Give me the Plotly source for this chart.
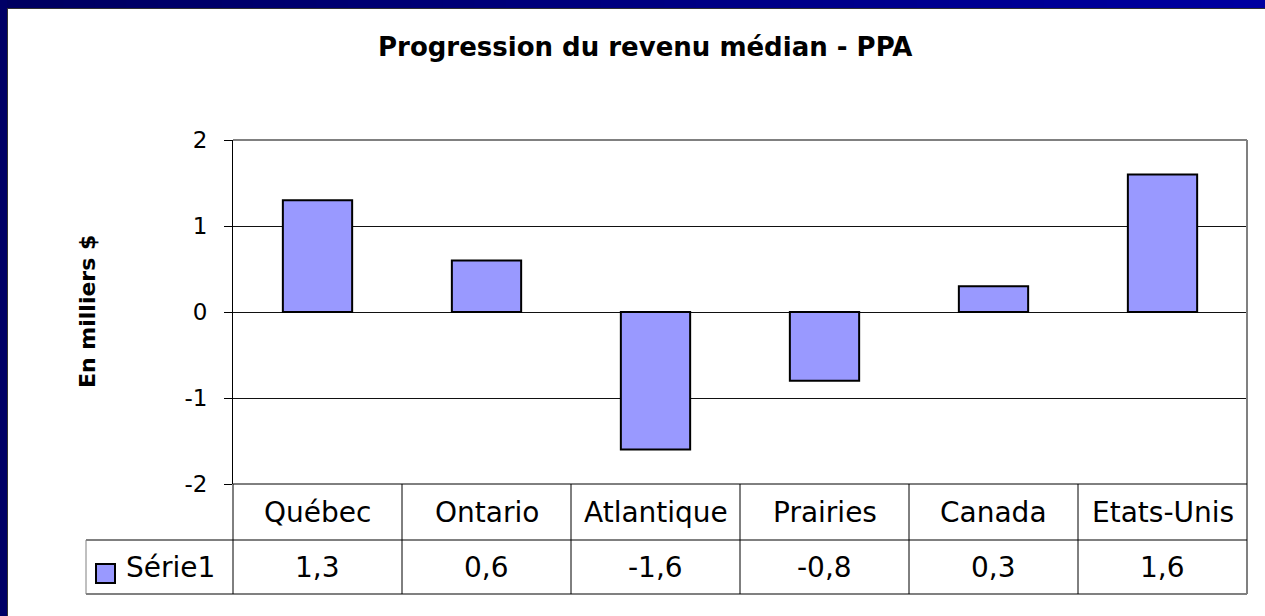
import plotly.graph_objects as go

categories = ["Québec", "Ontario", "Atlantique", "Prairies", "Canada", "Etats-Unis"]
values = [1.3, 0.6, -1.6, -0.8, 0.3, 1.6]
value_labels = ["1,3", "0,6", "-1,6", "-0,8", "0,3", "1,6"]
series_name = "Série1"
y_ticks = [-2, -1, 0, 1, 2]

W, H = 1265, 616
L, R, T, B = 233, 1247, 140, 484
PW, PH = R - L, B - T

def px(x):
    return (x - L) / PW

def py(y):
    return (B - y) / PH

FONT = "DejaVu Sans"
BAR = "#9999FF"

fig = go.Figure()
fig.add_trace(go.Bar(
    x=categories, y=values, width=0.41,
    marker=dict(color=BAR, line=dict(color="black", width=2)),
    showlegend=False, hoverinfo="skip",
))

shapes = []
# navy frame: top gradient band, left band
n = 40
x0 = px(0)
x1 = px(W)
for i in range(n):
    t = i / (n - 1)
    b = int(0x60 + (0xA0 - 0x60) * t)
    shapes.append(dict(type="rect", xref="paper", yref="paper",
                       x0=x0 + (x1 - x0) * i / n, x1=x0 + (x1 - x0) * (i + 1) / n + 0.001,
                       y0=py(8), y1=py(0), fillcolor=f"rgb(0,0,{b})", line=dict(width=0), layer="above"))
shapes.append(dict(type="rect", xref="paper", yref="paper", x0=px(0), x1=px(7), y0=py(H), y1=py(0),
                   fillcolor="#000066", line=dict(width=0), layer="above"))
shapes.append(dict(type="line", xref="paper", yref="paper", x0=px(7), x1=px(W), y0=py(8.5), y1=py(8.5),
                   line=dict(color="#333333", width=1), layer="above"))
shapes.append(dict(type="line", xref="paper", yref="paper", x0=px(7.5), x1=px(7.5), y0=py(H), y1=py(8),
                   line=dict(color="#333333", width=1), layer="above"))

# plot border (top & right gray)
shapes.append(dict(type="line", xref="paper", yref="paper", x0=0, x1=1, y0=1, y1=1,
                   line=dict(color="#808080", width=2), layer="above"))
shapes.append(dict(type="line", xref="paper", yref="paper", x0=1, x1=1, y0=py(594), y1=1,
                   line=dict(color="#808080", width=2), layer="above"))

# data table lines
row1_bottom = 540
row2_bottom = 594
legend_left = 86
shapes.append(dict(type="line", xref="paper", yref="paper", x0=0, x1=1, y0=0, y1=0,
                   line=dict(color="black", width=1), layer="above"))
shapes.append(dict(type="line", xref="paper", yref="paper", x0=px(legend_left), x1=1,
                   y0=py(row1_bottom), y1=py(row1_bottom), line=dict(color="black", width=1), layer="above"))
shapes.append(dict(type="line", xref="paper", yref="paper", x0=px(legend_left), x1=1,
                   y0=py(row2_bottom), y1=py(row2_bottom), line=dict(color="#808080", width=2), layer="above"))
shapes.append(dict(type="line", xref="paper", yref="paper", x0=px(legend_left), x1=px(legend_left),
                   y0=py(row2_bottom), y1=py(row1_bottom), line=dict(color="#808080", width=1), layer="above"))
shapes.append(dict(type="line", xref="paper", yref="paper", x0=0, x1=0,
                   y0=py(row2_bottom), y1=0, line=dict(color="black", width=1), layer="above"))
for i in range(1, len(categories)):
    shapes.append(dict(type="line", xref="paper", yref="paper", x0=i / len(categories), x1=i / len(categories),
                       y0=py(row2_bottom), y1=0, line=dict(color="black", width=1), layer="above"))
# legend key
shapes.append(dict(type="rect", xref="paper", yref="paper", x0=px(96), x1=px(115), y0=py(583), y1=py(564),
                   fillcolor=BAR, line=dict(color="black", width=2), layer="above"))

annotations = []
for c in categories:
    annotations.append(dict(x=c, xref="x", y=py((B + row1_bottom) / 2), yref="paper", text=c,
                            showarrow=False, font=dict(family=FONT, size=28, color="black"),
                            xanchor="center", yanchor="middle"))
for c, v in zip(categories, value_labels):
    annotations.append(dict(x=c, xref="x", y=py((row1_bottom + row2_bottom) / 2), yref="paper", text=v,
                            showarrow=False, font=dict(family=FONT, size=28, color="black"),
                            xanchor="center", yanchor="middle"))
annotations.append(dict(x=px(124), xref="paper", y=py((row1_bottom + row2_bottom) / 2), yref="paper",
                        text=series_name, showarrow=False, font=dict(family=FONT, size=28, color="black"),
                        xanchor="left", yanchor="middle"))
annotations.append(dict(x=px(87), xref="paper", y=0.5, yref="paper", text="<b>En milliers $</b>",
                        textangle=-90, showarrow=False, font=dict(family=FONT, size=22, color="black"),
                        xanchor="center", yanchor="middle"))
annotations.append(dict(x=px(645), xref="paper", y=py(47), yref="paper",
                        text="<b>Progression du revenu médian - PPA</b>", showarrow=False,
                        font=dict(family=FONT, size=26, color="black"), xanchor="center", yanchor="middle"))

fig.update_layout(
    width=W, height=H,
    margin=dict(l=L, r=W - R, t=T, b=H - B, pad=0),
    paper_bgcolor="white", plot_bgcolor="white",
    shapes=shapes, annotations=annotations,
    xaxis=dict(range=[-0.5, 5.5], showticklabels=False, showgrid=False, zeroline=False,
               showline=False, ticks="", fixedrange=True),
    yaxis=dict(range=[-2, 2], tickvals=y_ticks, ticktext=[str(v) for v in y_ticks],
               ticks="outside", ticklen=8, tickcolor="black", tickwidth=1,
               ticklabelstandoff=12,
               showline=True, linecolor="black", linewidth=1,
               showgrid=True, gridcolor="#111111", gridwidth=1,
               zeroline=True, zerolinecolor="#111111", zerolinewidth=1,
               tickfont=dict(family=FONT, size=23, color="black"), fixedrange=True),
)

fig.write_html("out.html", config={"displayModeBar": False},
               post_script="document.body.style.margin='0px';document.body.style.overflow='hidden';")
